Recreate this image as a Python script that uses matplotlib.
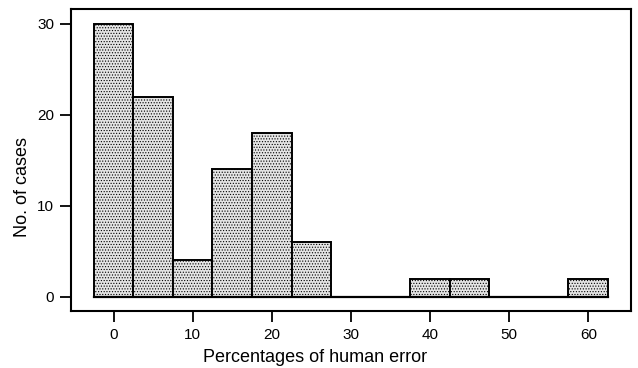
import numpy as np
import matplotlib
matplotlib.use("Agg")
import matplotlib.pyplot as plt

plt.rcParams['font.family'] = ['Liberation Sans', 'DejaVu Sans']
plt.rcParams['hatch.color'] = '#a8a8a8'
plt.rcParams['hatch.linewidth'] = 0.5

# bin centres (percent) and case counts
bin_centres = [0, 5, 10, 15, 20, 25, 30, 35, 40, 45, 50, 55, 60]
counts = [30, 22, 4, 14, 18, 6, 0, 0, 2, 2, 0, 0, 2]
bin_width = 5

fig = plt.figure(figsize=(6.38, 3.68), dpi=100)
ax = fig.add_axes([0.111, 0.155, 0.878, 0.82])

centres = np.array(bin_centres)
vals = np.array(counts)
shown = vals > 0
ax.bar(centres[shown], vals[shown], width=bin_width, color='#e4e4e4',
       edgecolor='black', linewidth=1.4, hatch='......', zorder=2)
ax.plot([centres[0] - bin_width / 2, centres[-1] + bin_width / 2], [0, 0],
        color='black', linewidth=1.6, zorder=3)

ax.set_xlim(-5.4, 65.4)
ax.set_ylim(-1.55, 31.6)
ax.set_xticks([0, 10, 20, 30, 40, 50, 60])
ax.set_yticks([0, 10, 20, 30])
ax.tick_params(direction='out', length=8, width=1.3, labelsize=11, pad=4)
for s in ax.spines.values():
    s.set_linewidth(1.5)

ax.set_xlabel('Percentages of human error', fontsize=13)
ax.set_ylabel('No. of cases', fontsize=13)
ax.xaxis.set_label_coords(0.436, -0.127)
ax.yaxis.set_label_coords(-0.071, 0.41)

fig.savefig('out.png', dpi=100)
